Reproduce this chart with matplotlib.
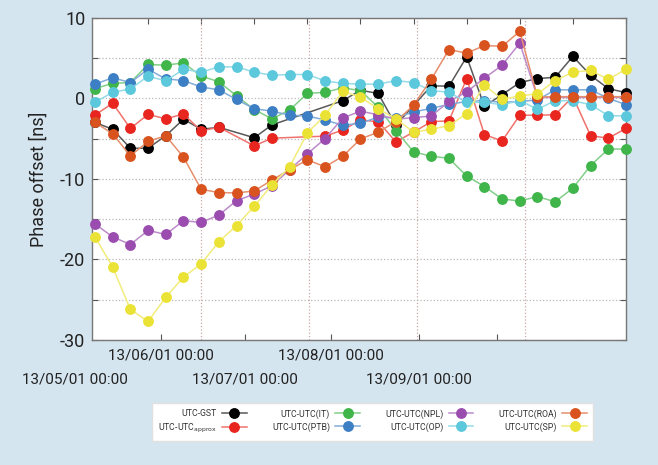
import matplotlib.pyplot as plt
import matplotlib.transforms as mtransforms
from matplotlib.colors import to_rgb

plt.rcParams['font.family'] = ['Roboto', 'DejaVu Sans']

# weekly samples, index 0..30 ; None = no point that week
weeks = list(range(31))

utc_gst = [-3.0, -3.85, -6.2, -6.2, -4.65, -2.6, -3.85, -3.6, None, -4.9,
           -3.3, None, None, None, -0.3, 1.0, 0.6, -3.35, None, 1.55,
           1.5, 5.15, -1.0, 0.45, 1.95, 2.45, 2.6, 5.2, 2.85, 1.2, 0.7]
utc_approx = [-2.1, -0.6, -3.75, -2.0, -2.55, -1.95, -4.05, -3.6, None, -5.9,
              -4.95, None, None, -4.7, -3.95, -2.7, -2.9, -5.4, -4.2, -2.9,
              -2.8, 2.45, -4.5, -5.3, -2.1, -2.1, -2.05, 0.2, -4.65, -4.95, -3.75]
utc_it = [1.2, 1.85, 1.95, 4.2, 4.1, 4.4, 2.75, 2.05, 0.3, -1.4,
          -2.55, -1.45, 0.6, 0.75, 1.3, 0.95, -1.1, -4.0, -6.65, -7.2,
          -7.45, -9.65, -10.95, -12.5, -12.75, -12.2, -12.85, -11.15, -8.35, -6.3, -6.3]
utc_ptb = [1.75, 2.55, 1.95, 3.6, 2.4, 2.2, 1.4, 1.05, -0.15, -1.3,
           -1.6, -2.1, -2.2, -2.7, -3.35, -3.1, -2.35, -2.4, -1.7, -1.25,
           -0.75, -0.4, -0.3, -0.5, -0.4, -0.2, 1.05, 1.05, 1.05, 0.0, -0.8]
utc_npl = [-15.6, -17.2, -18.15, -16.4, -16.9, -15.2, -15.4, -14.5, -12.7, -11.9,
           -10.85, -8.85, -6.9, -5.0, -2.45, -1.6, -2.05, -2.6, -2.4, -2.2,
           -0.4, 0.8, 2.5, 4.1, 6.85, 0.1, 0.1, 0.1, 0.1, 0.1, 0.1]
utc_op = [-0.5, 0.75, 1.15, 2.75, 2.15, 3.6, 3.25, 3.9, 3.9, 3.25,
          2.85, 2.95, 2.95, 2.15, 1.85, 1.75, 1.75, 2.2, 1.95, 0.95,
          0.75, -0.5, -0.5, -0.8, -0.3, -1.35, -0.3, -0.3, -0.8, -2.15, -2.2]
utc_roa = [-3.0, -4.4, -7.15, -5.35, -4.65, -7.3, -11.3, -11.7, -11.75, -11.5,
           -10.15, -8.85, -7.65, -8.5, -7.2, -5.05, -4.2, -2.9, -0.85, 2.35,
           6.05, 5.6, 6.55, 6.45, 8.3, 0.15, 0.2, 0.2, 0.2, 0.2, 0.2]
utc_sp = [-17.2, -20.95, -26.2, -27.7, -24.7, -22.2, -20.55, -17.8, -15.8, -13.4,
          -10.75, -8.5, -4.3, -2.1, 0.85, 0.15, -1.3, -2.55, -4.2, -3.85,
          -3.4, -1.9, 1.65, -0.15, 0.3, 0.55, 2.2, 3.25, 3.45, 2.35, 3.6]

labels = ['UTC-GST', 'UTC-UTC$_{\\rm approx}$', 'UTC-UTC(IT)', 'UTC-UTC(PTB)',
          'UTC-UTC(NPL)', 'UTC-UTC(OP)', 'UTC-UTC(ROA)', 'UTC-UTC(SP)']
colors = ['#000000', '#e8261f', '#3fb54a', '#3d7fc4',
          '#9a4daf', '#5cc8dc', '#d9531e', '#ebe236']
data = [utc_gst, utc_approx, utc_it, utc_ptb, utc_npl, utc_op, utc_roa, utc_sp]

# date labels (two staggered rows) and their positions on the week axis
date_labels = ['13/05/01 00:00', '13/06/01 00:00', '13/07/01 00:00',
               '13/08/01 00:00', '13/09/01 00:00']
date_pos = [-1.15, 3.75, 8.45, 13.35, 18.3]
date_row = [0, 1, 0, 1, 0]
bottom_ticks = [3.75, 8.5, 13.35, 18.3, 22.7]
top_ticks = [3, 6, 9, 12, 15, 18, 21, 24, 27, 30]
vgrid = [6.0, 12.1, 18.2, 24.3]


def lighter(c, f=0.35):
    r, g, b = to_rgb(c)
    return (r + (1 - r) * f, g + (1 - g) * f, b + (1 - b) * f)


fig = plt.figure(figsize=(6.58, 4.65), dpi=100, facecolor='#d5e5ef')
ax = fig.add_axes([92.3 / 658, 1 - 340 / 465, 533.7 / 658, (340 - 17.7) / 465])
ax.set_facecolor('white')

for vals, lab, col in zip(data, labels, colors):
    xs = [w for w, v in zip(weeks, vals) if v is not None]
    ys = [v for v in vals if v is not None]
    ax.plot(xs, ys, '-o', color=lighter(col), lw=1.1, ms=6.8,
            mfc=col, mec=col, label=lab, clip_on=False, zorder=3)

ax.set_xlim(-0.15, 30.0)
ax.set_ylim(-30, 10)

yt = list(range(-30, 11, 5))
ax.set_yticks(yt)
ax.set_yticklabels([str(v) if v % 10 == 0 else '' for v in yt])
ax.set_xticks(bottom_ticks)
ax.set_xticklabels([])
ax.set_xticks(vgrid, minor=True)
ax.tick_params(axis='x', which='minor', length=0)

ax.grid(axis='y', which='major', color='#b8b8b8', ls=':', lw=0.9)
ax.grid(axis='x', which='minor', color='#c8a8a8', ls=':', lw=0.9)
ax.tick_params(which='major', direction='in', length=4, width=0.8,
               color='#555555', labelsize=13, labelcolor='#222222',
               right=True, pad=5)

# ticks along the top edge
top = ax.secondary_xaxis('top')
top.set_xticks(top_ticks)
top.set_xticklabels([])
top.tick_params(direction='in', length=4, width=0.8, color='#555555')
top.spines['top'].set_visible(False)

for s in ax.spines.values():
    s.set_color('#777777')
    s.set_linewidth(1.0)

ax.set_ylabel('Phase offset [ns]', fontsize=13, color='#222222', labelpad=9)

trans = mtransforms.blended_transform_factory(ax.transData, fig.transFigure)
row_y = [1 - 379 / 465, 1 - 355 / 465]
for p, lab, r in zip(date_pos, date_labels, date_row):
    ax.text(p, row_y[r], lab, transform=trans, ha='center', va='center',
            fontsize=11, color='#222222', clip_on=False)

leg = fig.legend(loc='center', bbox_to_anchor=(0.566, 0.0925), ncol=4,
                 fontsize=6.3, markerfirst=False, fancybox=False,
                 edgecolor='#e0e0e0', facecolor='white', framealpha=1,
                 handlelength=2.8, columnspacing=2.9, labelspacing=0.4,
                 borderpad=0.7, handletextpad=0.6)
for t in leg.get_texts():
    t.set_color('#333333')

plt.savefig('out.png', dpi=100, facecolor=fig.get_facecolor())
